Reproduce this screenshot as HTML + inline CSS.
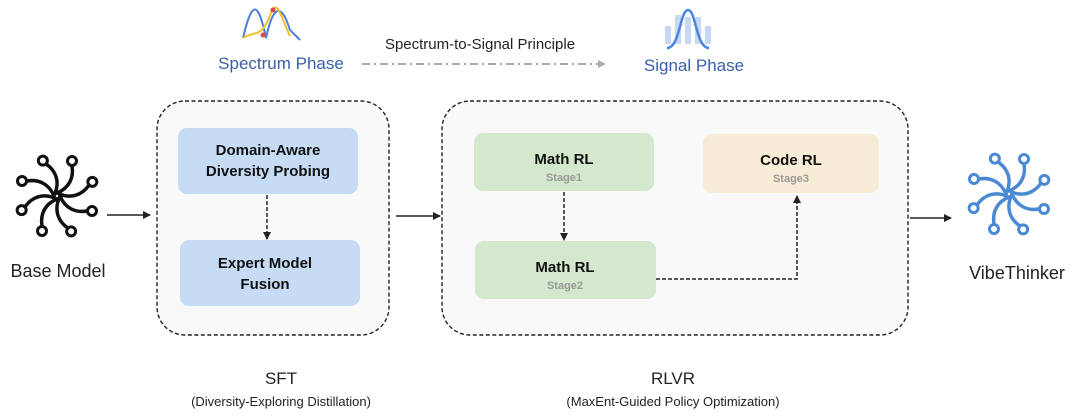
<!DOCTYPE html>
<html><head><style>
body{margin:0;background:#fff;}
svg text{font-family:"Liberation Sans",sans-serif;}
</style></head><body>
<svg width="1080" height="415" viewBox="0 0 1080 415" xmlns="http://www.w3.org/2000/svg">
<defs>
<marker id="ah" markerWidth="8" markerHeight="8" refX="7" refY="4" orient="auto" markerUnits="userSpaceOnUse"><path d="M0,0 L8,4 L0,8 Z" fill="#222"/></marker>
<marker id="ahg" markerWidth="8" markerHeight="8" refX="7" refY="4" orient="auto" markerUnits="userSpaceOnUse"><path d="M0,0 L8,4 L0,8 Z" fill="#aaa"/></marker>
<g id="arm"><path d="M0,-3 C12,-8 17,-18 15,-30" fill="none" stroke-width="3.5" stroke-linecap="round"/><circle cx="15" cy="-35" r="4.5" fill="#fff" stroke-width="3"/></g>
<g id="swirl">
<use href="#arm" transform="rotate(0)"/><use href="#arm" transform="rotate(45)"/><use href="#arm" transform="rotate(90)"/><use href="#arm" transform="rotate(135)"/><use href="#arm" transform="rotate(180)"/><use href="#arm" transform="rotate(225)"/><use href="#arm" transform="rotate(270)"/><use href="#arm" transform="rotate(315)"/>
</g>
</defs>

<!-- top icons -->
<g fill="none" stroke-width="2">
<path d="M243,38 C252,0 258,0 266,38 C272,10 280,-2 290,30 L300,40" stroke="#4a7fd8"/>
<path d="M243,38 C255,30 262,40 272,10 C278,0 282,20 290,36" stroke="#f0c030"/>
<circle cx="263" cy="35" r="2.5" fill="#e04a3a" stroke="none"/>
<circle cx="273" cy="10" r="2.5" fill="#e04a3a" stroke="none"/>
</g>
<g>
<rect x="665" y="26" width="6" height="18" fill="#c5d9f5"/>
<rect x="675" y="15" width="6" height="29" fill="#c5d9f5"/>
<rect x="685" y="17" width="6" height="27" fill="#c5d9f5"/>
<rect x="695" y="17" width="6" height="27" fill="#c5d9f5"/>
<rect x="705" y="26" width="6" height="18" fill="#c5d9f5"/>
<path d="M667,48 C680,48 680,10 688,10 C696,10 696,48 709,48" fill="none" stroke="#4a86e0" stroke-width="2.5"/>
</g>
<text x="281" y="69" font-size="17" fill="#3a5fa8" text-anchor="middle">Spectrum Phase</text>
<text x="694" y="71" font-size="17" fill="#3a5fa8" text-anchor="middle">Signal Phase</text>
<text x="480" y="49" font-size="15" fill="#222" text-anchor="middle">Spectrum-to-Signal Principle</text>
<line x1="362" y1="64" x2="605" y2="64" stroke="#aaa" stroke-width="2" stroke-dasharray="8,4,2,4" marker-end="url(#ahg)"/>

<!-- stage boxes -->
<rect x="157" y="101" width="232" height="234" rx="28" fill="#f9f9f9" stroke="#222" stroke-width="1.4" stroke-dasharray="4,2.5"/>
<rect x="442" y="101" width="466" height="234" rx="28" fill="#f9f9f9" stroke="#222" stroke-width="1.4" stroke-dasharray="4,2.5"/>

<rect x="178" y="128" width="180" height="66" rx="9" fill="#c6dcf5"/>
<text x="268" y="155" font-size="15" font-weight="bold" fill="#111" text-anchor="middle">Domain-Aware</text>
<text x="268" y="176" font-size="15" font-weight="bold" fill="#111" text-anchor="middle">Diversity Probing</text>
<rect x="180" y="240" width="180" height="66" rx="9" fill="#c6dcf5"/>
<text x="265" y="268" font-size="15" font-weight="bold" fill="#111" text-anchor="middle">Expert Model</text>
<text x="265" y="289" font-size="15" font-weight="bold" fill="#111" text-anchor="middle">Fusion</text>
<line x1="267" y1="195" x2="267" y2="239" stroke="#222" stroke-width="1.5" stroke-dasharray="4,2" marker-end="url(#ah)"/>

<rect x="474" y="133" width="180" height="58" rx="9" fill="#d3e8cc"/>
<text x="564" y="164" font-size="15" font-weight="bold" fill="#111" text-anchor="middle">Math RL</text>
<text x="564" y="181" font-size="11" font-weight="bold" fill="#999" text-anchor="middle">Stage1</text>
<rect x="475" y="241" width="181" height="58" rx="9" fill="#d3e8cc"/>
<text x="565" y="272" font-size="15" font-weight="bold" fill="#111" text-anchor="middle">Math RL</text>
<text x="565" y="289" font-size="11" font-weight="bold" fill="#999" text-anchor="middle">Stage2</text>
<rect x="703" y="134" width="176" height="59" rx="9" fill="#f7ecd6"/>
<text x="791" y="165" font-size="15" font-weight="bold" fill="#111" text-anchor="middle">Code RL</text>
<text x="791" y="182" font-size="11" font-weight="bold" fill="#999" text-anchor="middle">Stage3</text>
<line x1="564" y1="192" x2="564" y2="240" stroke="#222" stroke-width="1.5" stroke-dasharray="4,2" marker-end="url(#ah)"/>
<path d="M656,279 L797,279 L797,196" fill="none" stroke="#222" stroke-width="1.5" stroke-dasharray="4,2" marker-end="url(#ah)"/>

<!-- main arrows -->
<line x1="107" y1="215" x2="150" y2="215" stroke="#222" stroke-width="1.5" marker-end="url(#ah)"/>
<line x1="396" y1="216" x2="440" y2="216" stroke="#222" stroke-width="1.5" marker-end="url(#ah)"/>
<line x1="910" y1="218" x2="951" y2="218" stroke="#222" stroke-width="1.5" marker-end="url(#ah)"/>

<!-- model icons -->
<g transform="translate(57,196)" stroke="#111"><use href="#swirl"/></g>
<g transform="translate(1009,194)" stroke="#4a8ad4"><use href="#swirl"/></g>
<text x="58" y="277" font-size="18" fill="#222" text-anchor="middle">Base Model</text>
<text x="1017" y="279" font-size="18" fill="#222" text-anchor="middle">VibeThinker</text>

<text x="281" y="384" font-size="17" fill="#222" text-anchor="middle">SFT</text>
<text x="281" y="406" font-size="13" fill="#222" text-anchor="middle">(Diversity-Exploring Distillation)</text>
<text x="673" y="384" font-size="17" fill="#222" text-anchor="middle">RLVR</text>
<text x="673" y="406" font-size="13" fill="#222" text-anchor="middle">(MaxEnt-Guided Policy Optimization)</text>
</svg>
</body></html>
